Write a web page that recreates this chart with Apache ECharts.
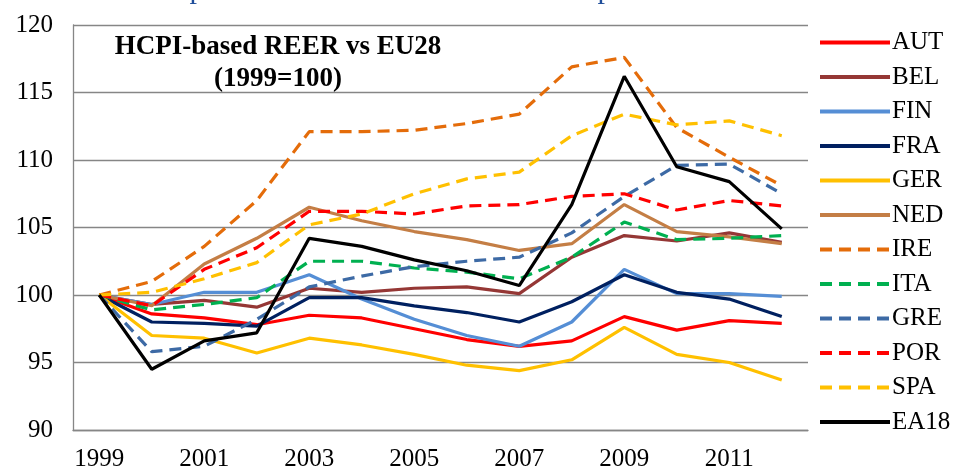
<!DOCTYPE html>
<html>
<head>
<meta charset="utf-8">
<script src="https://cdn.jsdelivr.net/npm/echarts@6.0.0/dist/echarts.min.js"></script>
<style>
  html, body { margin: 0; padding: 0; background: #fff; }
  #chart { width: 959px; height: 472px; }
</style>
</head>
<body>
<div id="chart"></div>
<script>
// years on the x axis (labels shown every second year)
const years = ['1999', '2000', '2001', '2002', '2003', '2004', '2005', '2006', '2007', '2008', '2009', '2010', '2011', '2012']

// HCPI-based REER vs EU28, 1999 = 100
const AUT = [100, 98.6, 98.3, 97.8, 98.5, 98.3, 97.5, 96.7, 96.2, 96.6, 98.4, 97.4, 98.1, 97.9]
const BEL = [100, 99.3, 99.6, 99.1, 100.5, 100.2, 100.5, 100.6, 100.1, 102.8, 104.4, 104.0, 104.6, 103.9]
const FIN = [100, 99.3, 100.2, 100.2, 101.5, 99.7, 98.2, 97.0, 96.2, 98.0, 101.9, 100.1, 100.1, 99.9]
const FRA = [100, 98.0, 97.9, 97.7, 99.8, 99.8, 99.2, 98.7, 98.0, 99.5, 101.5, 100.2, 99.7, 98.4]
const GER = [100, 97.0, 96.8, 95.7, 96.8, 96.3, 95.6, 94.8, 94.4, 95.2, 97.6, 95.6, 95.0, 93.7]
const NED = [100, 99.2, 102.3, 104.2, 106.5, 105.5, 104.7, 104.1, 103.3, 103.8, 106.7, 104.7, 104.3, 103.8]
const IRE = [100, 101.0, 103.6, 107.0, 112.1, 112.1, 112.2, 112.7, 113.4, 116.9, 117.6, 112.4, 110.2, 108.1]
const ITA = [100, 98.9, 99.3, 99.8, 102.5, 102.5, 102.0, 101.7, 101.2, 102.8, 105.4, 104.1, 104.2, 104.4]
const GRE = [100, 95.8, 96.2, 98.2, 100.6, 101.4, 102.1, 102.5, 102.8, 104.6, 107.3, 109.6, 109.7, 107.5]
const POR = [100, 99.2, 101.9, 103.5, 106.2, 106.2, 106.0, 106.6, 106.7, 107.3, 107.5, 106.3, 107.0, 106.6]
const SPA = [100, 100.2, 101.2, 102.4, 105.2, 106.0, 107.5, 108.6, 109.1, 111.8, 113.4, 112.6, 112.9, 111.8]
const EA18 = [100, 94.5, 96.6, 97.2, 104.2, 103.6, 102.6, 101.8, 100.7, 106.7, 116.2, 109.5, 108.4, 104.9]

const serif = '"Liberation Serif", "DejaVu Serif", serif'
const DASH = [12, 7]

// name, data, colour, dashed?
const lines = [
  ['AUT', AUT, '#ff0000', false],
  ['BEL', BEL, '#953735', false],
  ['FIN', FIN, '#558ed5', false],
  ['FRA', FRA, '#002060', false],
  ['GER', GER, '#ffc000', false],
  ['NED', NED, '#c47e45', false],
  ['IRE', IRE, '#e46c0a', true],
  ['ITA', ITA, '#00b050', true],
  ['GRE', GRE, '#3d6aa5', true],
  ['POR', POR, '#ff0000', true],
  ['SPA', SPA, '#ffc000', true],
  ['EA18', EA18, '#000000', false],
]

const chart = echarts.init(document.getElementById('chart'), null, { renderer: 'canvas' })

chart.setOption({
  animation: false,
  backgroundColor: '#fff',
  textStyle: { fontFamily: serif },
  title: {
    text: 'HCPI-based REER vs EU28\n(1999=100)',
    left: 273,
    top: 26,
    textAlign: 'center',
    textStyle: { fontFamily: serif, fontSize: 27, fontWeight: 'bold', color: '#000', lineHeight: 32 },
  },
  // bottoms of the cut-off caption above the chart
  graphic: [
    { type: 'text', x: 197, y: 5, style: { text: 'p', font: '30px ' + serif, fill: '#1f4e9a', textAlign: 'center', textVerticalAlign: 'bottom' } },
    { type: 'text', x: 605, y: 5, style: { text: 'p', font: '30px ' + serif, fill: '#1f4e9a', textAlign: 'center', textVerticalAlign: 'bottom' } },
  ],
  legend: {
    orient: 'vertical',
    left: 818,
    top: 30,
    padding: 0,
    itemWidth: 70,
    itemHeight: 14,
    itemGap: 9.5,
    itemStyle: { opacity: 0 },
    lineStyle: { width: 4 },
    textStyle: { fontFamily: serif, fontSize: 25, color: '#000', padding: [0, 0, 0, -3] },
    data: lines.map((l) => l[0]),
  },
  grid: { left: 73, right: 151, top: 25, bottom: 41, containLabel: false },
  xAxis: {
    type: 'category',
    data: years,
    boundaryGap: true,
    axisLine: { lineStyle: { color: '#868686', width: 1.3 } },
    axisTick: { interval: 1, length: 7, lineStyle: { color: '#868686', width: 1.3 } },
    axisLabel: { interval: 1, fontFamily: serif, fontSize: 25, color: '#000', margin: 17 },
  },
  yAxis: {
    type: 'value',
    min: 90,
    max: 120,
    interval: 5,
    axisLine: { show: true, lineStyle: { color: '#868686', width: 1.3 } },
    axisTick: { show: false },
    axisLabel: { fontFamily: serif, fontSize: 25, color: '#000', margin: 20 },
    splitLine: { lineStyle: { color: '#868686', width: 1.3 } },
  },
  series: lines.map(([name, data, color, dashed]) => ({
    name,
    type: 'line',
    data,
    symbol: 'none',
    smooth: false,
    color,
    lineStyle: { color, width: 3.2, type: dashed ? DASH : 'solid' },
  })),
})
</script>
</body>
</html>
